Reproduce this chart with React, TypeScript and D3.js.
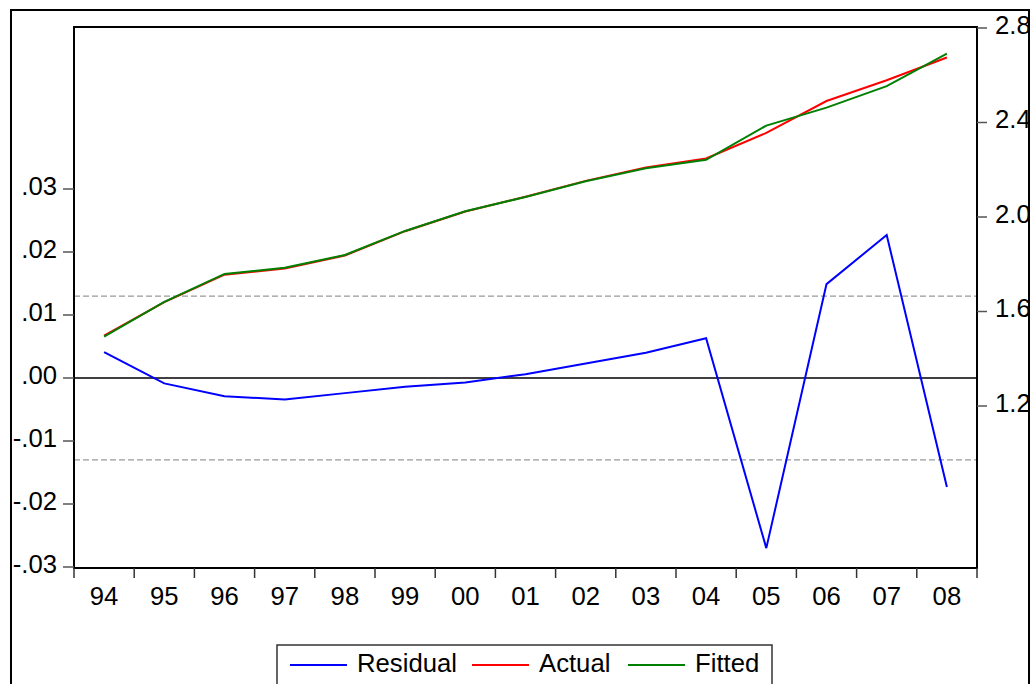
import React from "react";
import * as d3 from "d3";

const years = ["94", "95", "96", "97", "98", "99", "00", "01", "02", "03", "04", "05", "06", "07", "08"];
const residual = [0.0041, -0.00085, -0.0029, -0.0034, -0.0024, -0.0014, -0.0007, 0.0006, 0.0023, 0.004, 0.0063, -0.027, 0.0149, 0.0227, -0.0173];
const actual = [1.498, 1.640, 1.756, 1.782, 1.837, 1.940, 2.023, 2.086, 2.153, 2.210, 2.248, 2.356, 2.491, 2.579, 2.675];
const fitted = [1.494, 1.641, 1.759, 1.785, 1.839, 1.941, 2.024, 2.085, 2.151, 2.206, 2.242, 2.387, 2.463, 2.554, 2.692];
const leftTicks = [-0.03, -0.02, -0.01, 0, 0.01, 0.02, 0.03];
const leftTickLabels = ["-.03", "-.02", "-.01", ".00", ".01", ".02", ".03"];
const rightTicks = [1.2, 1.6, 2.0, 2.4, 2.8];
const rightTickLabels = ["1.2", "1.6", "2.0", "2.4", "2.8"];
const bandLimit = 0.013;
const legendItems = [
  { name: "Residual", color: "#0000ff" },
  { name: "Actual", color: "#ff0000" },
  { name: "Fitted", color: "#008000" },
];

const W = 1035;
const H = 684;
const L = 74, R = 977, T = 27, B = 568;
const FONT = "'Liberation Sans', Arial, sans-serif";
const FS = 25.7;

export default function App() {
  const x = d3.scaleBand<string>().domain(years).range([L, R]).padding(0);
  const cx = (i: number) => (x(years[i]) as number) + x.bandwidth() / 2;
  const yL = d3.scaleLinear().domain([-0.03, 0.03]).range([567, 189]);
  const yR = d3.scaleLinear().domain([1.2, 2.8]).range([406, 28]);

  const lineL = d3.line<number>().x((_, i) => cx(i)).y((d) => yL(d));
  const lineR = d3.line<number>().x((_, i) => cx(i)).y((d) => yR(d));

  const boundaries = years.map((y) => x(y) as number).concat([R]);
  const legendX = [290, 472, 628];

  return (
    <svg width={W} height={H} style={{ position: "absolute", left: 0, top: 0, background: "#fff" }} fontFamily={FONT}>
      <defs>
        <clipPath id="frameClip">
          <rect x={11} y={10} width={1018} height={H} />
        </clipPath>
        <clipPath id="plotClip">
          <rect x={L} y={T} width={R - L} height={B - T} />
        </clipPath>
      </defs>
      <rect x={0} y={0} width={W} height={H} fill="#fff" />
      <g clipPath="url(#frameClip)">
        {[bandLimit, -bandLimit].map((v, i) => (
          <line key={i} x1={L} x2={R} y1={yL(v)} y2={yL(v)} stroke="#999" strokeWidth={1.2} strokeDasharray="6,3" />
        ))}
        <line x1={L} x2={R} y1={yL(0)} y2={yL(0)} stroke="#000" strokeWidth={1.5} />
        <g clipPath="url(#plotClip)">
          <path d={lineR(actual) || ""} fill="none" stroke="#ff0000" strokeWidth={2} />
          <path d={lineR(fitted) || ""} fill="none" stroke="#008000" strokeWidth={2} />
          <path d={lineL(residual) || ""} fill="none" stroke="#0000ff" strokeWidth={2} />
        </g>
        <rect x={L} y={T} width={R - L} height={B - T} fill="none" stroke="#000" strokeWidth={2} />
        {leftTicks.map((v, i) => (
          <g key={i}>
            <line x1={L - 11} x2={L} y1={yL(v)} y2={yL(v)} stroke="#555" strokeWidth={1.5} />
            <text x={L - 17} y={yL(v) + 5.5} textAnchor="end" fontSize={FS} fill="#000">
              {leftTickLabels[i]}
            </text>
          </g>
        ))}
        {rightTicks.map((v, i) => (
          <g key={i}>
            <line x1={R} x2={R + 10} y1={yR(v)} y2={yR(v)} stroke="#555" strokeWidth={1.5} />
            <text x={R + 18} y={yR(v) + 5.5} textAnchor="start" fontSize={FS} fill="#000">
              {rightTickLabels[i]}
            </text>
          </g>
        ))}
        {boundaries.map((bx, i) => (
          <line key={i} x1={bx} x2={bx} y1={B} y2={B + 10} stroke="#333" strokeWidth={1.5} />
        ))}
        {years.map((yr, i) => (
          <text key={yr} x={cx(i)} y={605} textAnchor="middle" fontSize={FS} fill="#000">
            {yr}
          </text>
        ))}
        <rect x={277} y={645} width={495} height={60} fill="#fff" stroke="#333" strokeWidth={1.5} />
        {legendItems.map((it, i) => (
          <g key={it.name}>
            <line x1={legendX[i]} x2={legendX[i] + 57} y1={665} y2={665} stroke={it.color} strokeWidth={2} />
            <text x={legendX[i] + 67} y={672} fontSize={FS} fill="#000">
              {it.name}
            </text>
          </g>
        ))}
      </g>
      <rect x={11} y={10} width={1018} height={H + 10} fill="none" stroke="#000" strokeWidth={2} />
    </svg>
  );
}
